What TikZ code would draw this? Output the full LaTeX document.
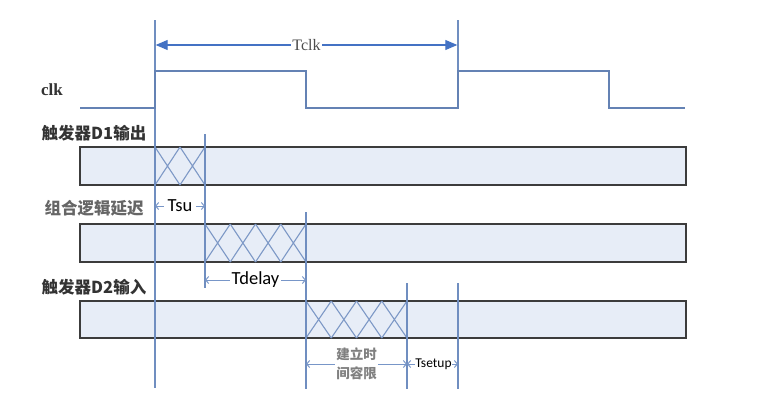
\documentclass[tikz,border=0pt]{standalone}
\usepackage{fontspec}
\setmainfont{Liberation Serif}
\newfontfamily\cjkfont{Noto Sans CJK SC}
\newfontfamily\calfont{Carlito}
\usetikzlibrary{arrows.meta}
\definecolor{vline}{RGB}{112,142,192}
\definecolor{wave}{RGB}{100,130,180}
\definecolor{hatch}{RGB}{125,152,198}
\definecolor{barfill}{RGB}{231,237,247}
\definecolor{barborder}{RGB}{60,60,60}
\definecolor{arrowblue}{RGB}{68,114,196}
\definecolor{dimblue}{RGB}{120,150,200}
\tikzset{
  vl/.style={draw=vline, line width=1.4pt},
  wv/.style={draw=wave, line width=1.4pt},
  bar/.style={fill=barfill, draw=barborder, line width=1.4pt},
  hl/.style={draw=hatch, line width=1.1pt},
  dim/.style={draw=dimblue, line width=1pt, {Straight Barb[length=3pt,width=7pt]}-{Straight Barb[length=3pt,width=7pt]}},
  biglbl/.style={font=\cjkfont\bfseries\fontsize{16.5}{18}\selectfont, text=black!80, inner sep=0pt},
  glbl/.style={font=\cjkfont\bfseries\fontsize{16.5}{18}\selectfont, text=black!60, inner sep=0pt},
  tlbl/.style={font=\calfont\fontsize{18.5}{20}\selectfont, fill=white, inner sep=2pt},
}
\begin{document}
\begin{tikzpicture}[x=1pt,y=-1pt]
\useasboundingbox (0,0) rectangle (757,418);
% bars
\path[bar] (80,147) rectangle (686,185);
\path[bar] (80,224) rectangle (686,262);
\path[bar] (80,301) rectangle (686,338);
% hatching
\foreach \a in {155,180}{\draw[hl] (\a,147) -- (\a+25,185) (\a+25,147) -- (\a,185);}
\foreach \i in {0,1,2,3}{\pgfmathsetmacro\a{205+25.25*\i}
  \draw[hl] (\a,224) -- (\a+25.25,262) (\a+25.25,224) -- (\a,262);}
\foreach \i in {0,1,2,3}{\pgfmathsetmacro\a{306+25.25*\i}
  \draw[hl] (\a,301) -- (\a+25.25,338) (\a+25.25,301) -- (\a,338);}
% vertical lines
\coordinate (v1t) at (155,20); \coordinate (v1b) at (155,388);
\coordinate (v2t) at (458,20); \coordinate (v2m) at (458,108);
\coordinate (v2u) at (458,283); \coordinate (v2b) at (458,389);
\coordinate (v3t) at (205,134); \coordinate (v3b) at (205,288);
\coordinate (v4t) at (306,212); \coordinate (v4b) at (306,389);
\coordinate (v5t) at (407,283); \coordinate (v5b) at (407,389);
\draw[vl] (v1t) -- (v1b);
\draw[vl] (v2t) -- (v2m);
\draw[vl] (v2u) -- (v2b);
\draw[vl] (v3t) -- (v3b);
\draw[vl] (v4t) -- (v4b);
\draw[vl] (v5t) -- (v5b);
% clk waveform
\draw[wv] (80,108) -- (155,108) -- (155,71) -- (306,71) -- (306,108) -- (458,108) -- (458,71) -- (609,71) -- (609,108) -- (685,108);
% Tclk
\coordinate (tc1) at (155.7,45); \coordinate (tc2) at (457.3,45);
\draw[draw=arrowblue, line width=1.1pt, {Triangle[length=12pt,width=10pt]}-{Triangle[length=12pt,width=10pt]}, arrowblue] (tc1) -- node[fill=white, inner sep=1pt, text=black!70, font=\fontsize{16}{18}\selectfont] (tclk) {Tclk} (tc2);
% labels
\node[font=\bfseries\fontsize{17}{19}\selectfont, text=black!80] (clk) at (52,90) {clk};
\node[biglbl] (d1) at (94,133) {触发器D1输出};
\node[glbl] (comb) at (94,208) {组合逻辑延迟};
\node[biglbl] (d2) at (94,287) {触发器D2输入};
% Tsu
\coordinate (su1) at (155,206); \coordinate (su2) at (205,206);
\draw[dim] (su1) -- node[tlbl, inner xsep=4pt] (tsu) {Tsu} (su2);
% Tdelay
\coordinate (de1) at (205,280); \coordinate (de2) at (306,280);
\draw[dim] (de1) -- node[tlbl, inner xsep=2pt] (tdelay) {Tdelay} (de2);
% setup margin
\coordinate (sm1) at (306,364); \coordinate (sm2) at (407,364);
\draw[dim] (sm1) -- node[fill=white, inner sep=1pt, align=center, text=black!50, font=\cjkfont\bfseries\fontsize{13.5}{19}\selectfont] (margin) {建立时\\间容限} (sm2);
% Tsetup
\coordinate (ts1) at (407,364); \coordinate (ts2) at (458,364);
\draw[dim] (ts1) -- node[fill=white, inner sep=0.5pt, font=\calfont\fontsize{13.5}{15}\selectfont, xshift=1pt] (tsetup) {Tsetup} (ts2);
\end{tikzpicture}
\end{document}
